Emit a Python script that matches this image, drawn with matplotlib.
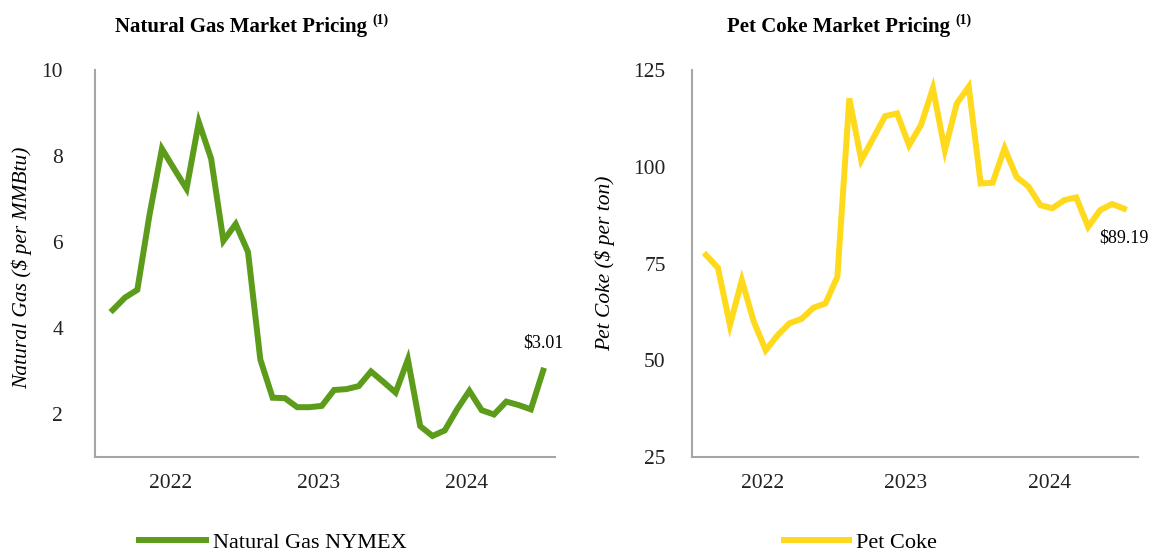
import numpy as np
import matplotlib.pyplot as plt

plt.rcParams['font.family'] = ['Liberation Serif', 'DejaVu Serif']

# monthly prices, Jan 2022 - Dec 2024
gas = [4.42, 4.71, 4.89, 6.65, 8.17, 7.70, 7.24, 8.79, 7.94, 6.03, 6.42, 5.77,
       3.27, 2.38, 2.37, 2.16, 2.16, 2.19, 2.56, 2.58, 2.65, 2.99, 2.75, 2.50,
       3.27, 1.72, 1.49, 1.62, 2.11, 2.54, 2.09, 1.99, 2.29, 2.21, 2.11, 3.01]
coke = [77.2, 73.9, 59.1, 70.7, 60.0, 52.6, 56.5, 59.6, 60.7, 63.6, 64.7, 71.6,
        117.7, 101.7, 107.4, 113.1, 113.8, 105.6, 110.8, 120.3, 104.3, 116.4, 120.7, 95.7,
        95.9, 104.8, 97.4, 94.9, 90.1, 89.3, 91.4, 92.1, 84.5, 88.8, 90.4, 89.19]
years = ['2022', '2023', '2024']

green = '#5C9C1A'
yellow = '#FFD91C'
spine = '#A6A6A6'

fig = plt.figure(figsize=(11.49, 5.52), dpi=100)
ax1 = fig.add_axes([0.0827, 0.172, 0.4003, 0.701])
ax2 = fig.add_axes([0.6023, 0.172, 0.3882, 0.701])

x = np.arange(len(gas))
yr_pos = [4.7, 16.75, 28.8]


def style(ax, ypad):
    for s in ['top', 'right']:
        ax.spines[s].set_visible(False)
    for s in ['left', 'bottom']:
        ax.spines[s].set_color(spine)
        ax.spines[s].set_linewidth(1.5)
    ax.tick_params(length=0, labelsize=15.5, colors='#222222')
    ax.tick_params(axis='y', pad=ypad)
    ax.tick_params(axis='x', pad=12)
    ax.set_xticks(yr_pos)
    ax.set_xticklabels(years)


ax1.plot(x, gas, color=green, lw=4.3, solid_joinstyle='miter', label='Natural Gas NYMEX')
ax1.set_xlim(-1.44, 35.96)
ax1.set_ylim(1, 10)
ax1.set_yticks([2, 4, 6, 8, 10])
style(ax1, 23)
ax1.set_ylabel('Natural Gas ($ per MMBtu)', style='italic', fontsize=15.5)
ax1.yaxis.set_label_coords(-0.137, 0.49)
ax1.annotate('$%.2f' % gas[-1], (x[-1], gas[-1]), xytext=(0, 20),
             textcoords='offset points', ha='center', va='center', fontsize=13)
ax1.legend(loc='center left', bbox_to_anchor=(0.096, -0.222), frameon=False,
           borderpad=0, borderaxespad=0, handlelength=3.0, handletextpad=0.3,
           fontsize=16)

ax2.plot(x, coke, color=yellow, lw=4.3, solid_joinstyle='miter', label='Pet Coke')
ax2.set_xlim(-1.17, 36.18)
ax2.set_ylim(25, 125)
ax2.set_yticks([25, 50, 75, 100, 125])
style(ax2, 19)
ax2.set_ylabel('Pet Coke ($ per ton)', style='italic', fontsize=15.5)
ax2.yaxis.set_label_coords(-0.173, 0.5)
ax2.annotate('$%.2f' % coke[-1], (x[-1], coke[-1]), xytext=(0, -21),
             textcoords='offset points', ha='center', va='center', fontsize=13)
ax2.legend(loc='center left', bbox_to_anchor=(0.206, -0.222), frameon=False,
           borderpad=0, borderaxespad=0, handlelength=2.95, handletextpad=0.3,
           fontsize=16)

for xpos, txt in [(115 / 1149, 'Natural Gas Market Pricing'),
                  (727 / 1149, 'Pet Coke Market Pricing')]:
    t = fig.text(xpos, 1 - 27 / 552, txt, fontsize=15, fontweight='bold',
                 ha='left', va='center')
    plt.annotate('(1)', xy=(1, 0.5), xycoords=t, xytext=(4, 5),
                 textcoords='offset points', fontsize=10, fontweight='bold',
                 ha='left', va='center')

fig.savefig('out.png', dpi=100)
